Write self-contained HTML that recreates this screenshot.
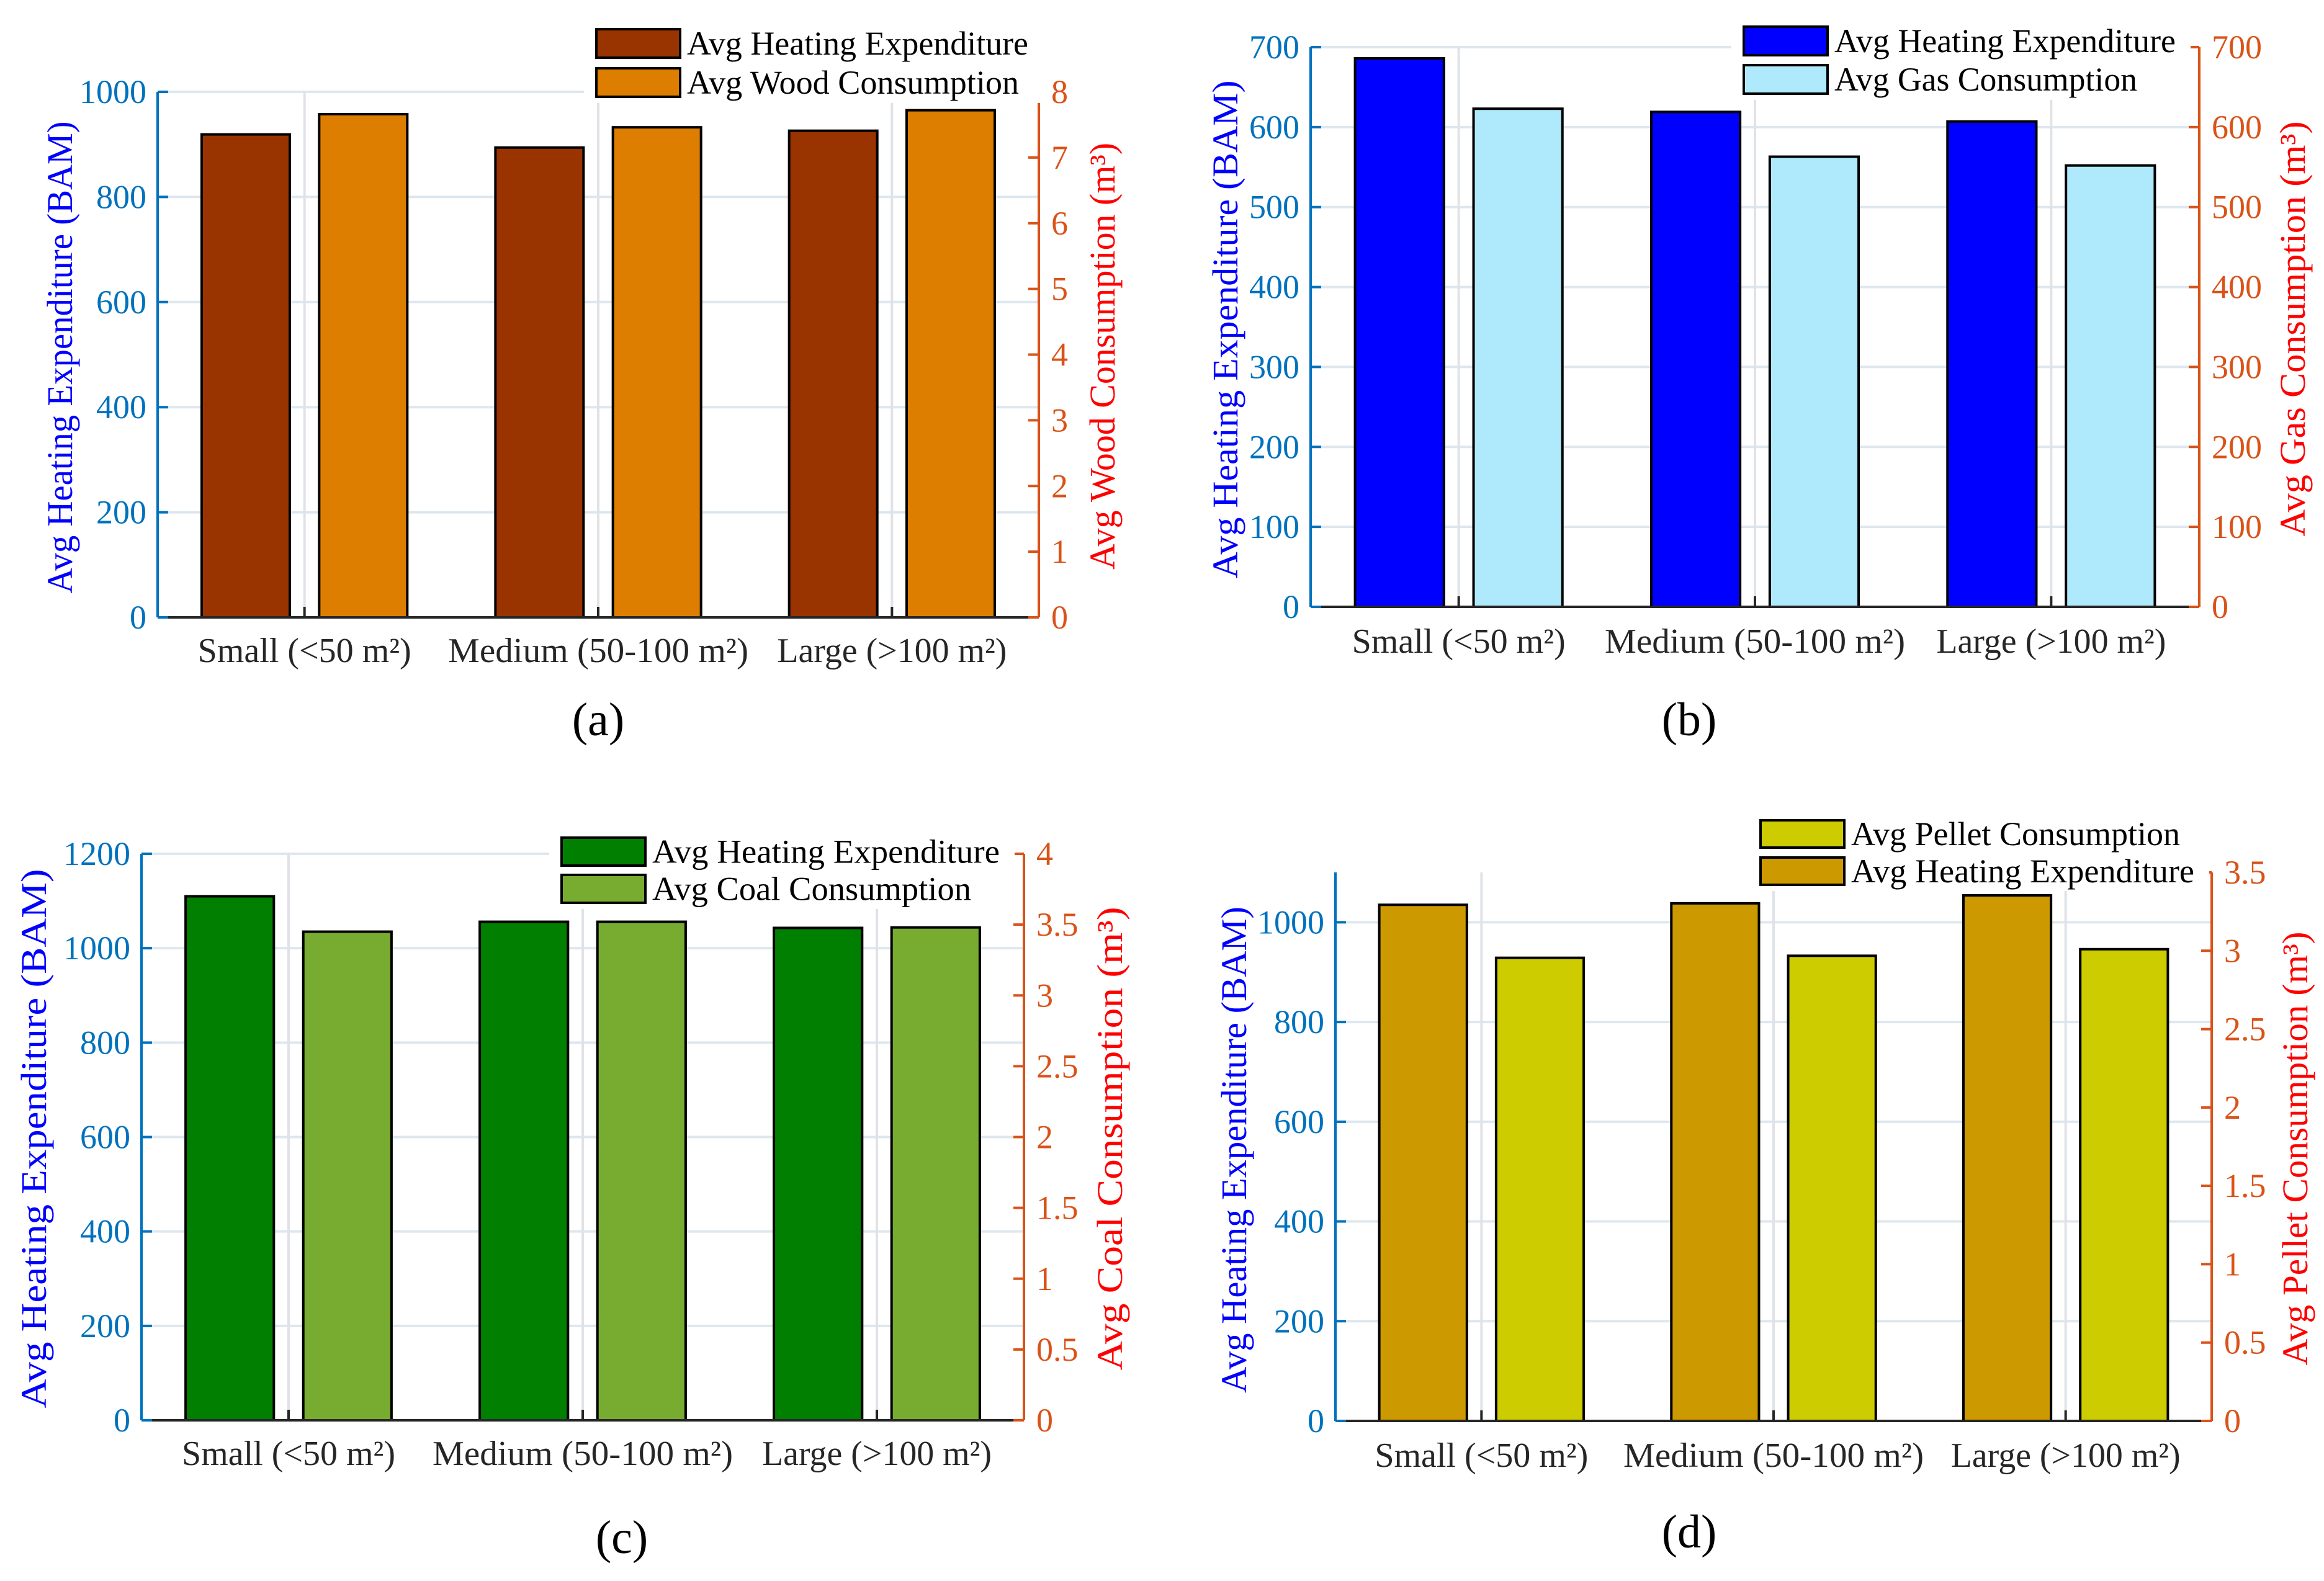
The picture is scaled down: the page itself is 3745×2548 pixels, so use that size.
<!DOCTYPE html>
<html><head><meta charset="utf-8"><style>
html,body{margin:0;padding:0;background:#fff;}
svg{display:block;}
text{font-family:"Liberation Serif",serif;}
</style></head>
<body>
<svg id="fig" width="3745" height="2548" viewBox="0 0 3745 2548" xmlns="http://www.w3.org/2000/svg"></svg>
<script>
// ---- data ----
const categories = ["Small (<50 m\u00B2)", "Medium (50-100 m\u00B2)", "Large (>100 m\u00B2)"];
const aHeating = [919, 894, 926];
const aWood = [7.66, 7.46, 7.72];
const bHeating = [686, 619, 607];
const bGas = [623, 563, 552];
const cHeating = [1110, 1056, 1043];
const cCoal = [3.45, 3.52, 3.48];
const dHeating = [1035, 1038, 1054];
const dPellet = [2.955, 2.968, 3.01];
const aLeftTicks = ["0","200","400","600","800","1000"];
const aRightTicks = ["0","1","2","3","4","5","6","7","8"];
const bLeftTicks = ["0","100","200","300","400","500","600","700"];
const bRightTicks = ["0","100","200","300","400","500","600","700"];
const cLeftTicks = ["0","200","400","600","800","1000","1200"];
const cRightTicks = ["0","0.5","1","1.5","2","2.5","3","3.5","4"];
const dLeftTicks = ["0","200","400","600","800","1000"];
const dRightTicks = ["0","0.5","1","1.5","2","2.5","3","3.5"];
const catLabelW = [344, 484, 370];

const NS = "http://www.w3.org/2000/svg";
const svg = document.getElementById('fig');
function el(tag, attrs, parent, txt){
  const e = document.createElementNS(NS, tag);
  for (const k in attrs) e.setAttribute(k, attrs[k]);
  if (txt !== undefined) e.textContent = txt;
  (parent||svg).appendChild(e);
  return e;
}

const panels = [
 {id:'a', x0:254, x1:1674, y0:995, y1:148, lmax:1000, rmax:8, left:aHeating, right:aWood, lt:aLeftTicks, rt:aRightTicks,
  lc:'#993300', rc:'#DD7E00', order:['L','R'], names:['Avg Heating Expenditure','Avg Wood Consumption'],
  legX:961, legY:[47,110], legH:46, legTextW:[550,535], ltitle:'Avg Heating Expenditure (BAM)', rtitle:'Avg Wood Consumption (m\u00B3)',
  ltx:96, lty:576, ltw:761, rtx:1776, rty:574, rtw:688, catY:1048, capX:964, capY:1159},
 {id:'b', x0:2112, x1:3544, y0:978, y1:76, lmax:700, rmax:700, left:bHeating, right:bGas, lt:bLeftTicks, rt:bRightTicks,
  lc:'#0000FF', rc:'#AEEAFC', order:['L','R'], names:['Avg Heating Expenditure','Avg Gas Consumption'],
  legX:2810, legY:[43,105], legH:46, legTextW:[550,488], ltitle:'Avg Heating Expenditure (BAM)', rtitle:'Avg Gas Consumption (m\u00B3)',
  ltx:1974, lty:531, ltw:803, rtx:3694, rty:530, rtw:669, catY:1033, capX:2722, capY:1159},
 {id:'c', x0:228, x1:1650, y0:2289, y1:1376, lmax:1200, rmax:4, left:cHeating, right:cCoal, lt:cLeftTicks, rt:cRightTicks,
  lc:'#007F00', rc:'#77AC30', order:['L','R'], names:['Avg Heating Expenditure','Avg Coal Consumption'],
  legX:905, legY:[1350,1410], legH:45, legTextW:[560,514], ltitle:'Avg Heating Expenditure (BAM)', rtitle:'Avg Coal Consumption (m\u00B3)',
  ltx:54, lty:1835, ltw:869, rtx:1788, rty:1835, rtw:747, catY:2342, capX:1002, capY:2477},
 {id:'d', x0:2152, x1:3564, y0:2290, y1:1406, lmax:1100, rmax:3.5, left:dHeating, right:dPellet, lt:dLeftTicks, rt:dRightTicks,
  lc:'#CC9900', rc:'#CCCC00', order:['R','L'], names:['Avg Pellet Consumption','Avg Heating Expenditure'],
  legX:2837, legY:[1322,1382], legH:44, legTextW:[530,553], ltitle:'Avg Heating Expenditure (BAM)', rtitle:'Avg Pellet Consumption (m\u00B3)',
  ltx:1988, lty:1853, ltw:784, rtx:3698, rty:1851, rtw:699, catY:2345, capX:2722, capY:2468}
];

panels.forEach(p => {
  const g = el('g', {});
  
  
  const xs = i => p.x0 + (i + 0.5) * (p.x1 - p.x0) / categories.length;
  const unit = (p.x1 - p.x0) / categories.length;
  const yl = v => p.y0 - v / p.lmax * (p.y0 - p.y1);
  const yr = v => p.y0 - v / p.rmax * (p.y0 - p.y1);

  p.lt.forEach(t => {
    const y = yl(parseFloat(t));
    const gl = el('line', {x1:p.x0, x2:p.x1, y1:y, y2:y, stroke:'#dde7ef', 'stroke-width':4}, g);
    
    
  });
  categories.forEach((c, i) => {
    const gl = el('line', {x1:xs(i), x2:xs(i), y1:p.y1, y2:p.y0, stroke:'#dfe3e8', 'stroke-width':4}, g);
    
    
  });

  categories.forEach((c, i) => {
    const vL = p.left[i], vR = p.right[i];
    const bl = el('rect', {x:xs(i) - 0.2*unit - 0.15*unit, y:yl(vL), width:0.3*unit, height:p.y0 - yl(vL), fill:p.lc, stroke:'#000', 'stroke-width':4}, g);
    
    
    const br = el('rect', {x:xs(i) + 0.2*unit - 0.15*unit, y:yr(vR), width:0.3*unit, height:p.y0 - yr(vR), fill:p.rc, stroke:'#000', 'stroke-width':4}, g);
    
    
  });

  const la = el('line', {x1:p.x0, x2:p.x0, y1:p.y1, y2:p.y0, stroke:'#0072BD', 'stroke-width':4}, g);
  
  
  const ra = el('line', {x1:p.x1, x2:p.x1, y1:p.y1, y2:p.y0, stroke:'#D95319', 'stroke-width':4}, g);
  
  
  const xa = el('line', {x1:p.x0, x2:p.x1, y1:p.y0, y2:p.y0, stroke:'#262626', 'stroke-width':4}, g);
  
  

  p.lt.forEach(t => {
    const y = yl(parseFloat(t));
    el('line', {x1:p.x0, x2:p.x0+17, y1:y, y2:y, stroke:'#0072BD', 'stroke-width':4}, g);
    const tx = el('text', {x:p.x0-18, y:y+18, 'text-anchor':'end', 'font-size':54, fill:'#0072BD'}, g, t);
    
    
  });
  p.rt.forEach(t => {
    const y = yr(parseFloat(t));
    el('line', {x1:p.x1-17, x2:p.x1, y1:y, y2:y, stroke:'#D95319', 'stroke-width':4}, g);
    const tx = el('text', {x:p.x1+20, y:y+18, 'text-anchor':'start', 'font-size':54, fill:'#D95319'}, g, t);
    
    
  });
  categories.forEach((c, i) => {
    el('line', {x1:xs(i), x2:xs(i), y1:p.y0-17, y2:p.y0, stroke:'#262626', 'stroke-width':4}, g);
    const tx = el('text', {x:xs(i)-catLabelW[i]/2, y:p.catY+19, 'font-size':56, fill:'#262626', textLength:catLabelW[i], lengthAdjust:'spacingAndGlyphs'}, g, c);
    
    
  });

  const lt = el('text', {x:0, y:0, 'text-anchor':'middle', 'font-size':58, fill:'#0000FF', textLength:p.ltw, lengthAdjust:'spacingAndGlyphs', transform:`translate(${p.ltx+20},${p.lty}) rotate(-90)`}, g, p.ltitle);
  
  
  const rt = el('text', {x:0, y:0, 'text-anchor':'middle', 'font-size':58, fill:'#FF0000', textLength:p.rtw, lengthAdjust:'spacingAndGlyphs', transform:`translate(${p.rtx+20},${p.rty}) rotate(-90)`}, g, p.rtitle);
  
  

  const lg = el('g', {}, g);
  
  
  el('rect', {x:p.legX-20, y:p.legY[0]-10, width:Math.max(...p.legTextW)+190, height:p.legY[1]-p.legY[0]+p.legH+20, fill:'#fff'}, lg);
  p.order.forEach((s, k) => {
    const sw = el('rect', {x:p.legX, y:p.legY[k], width:135, height:p.legH, fill:s==='L'?p.lc:p.rc, stroke:'#000', 'stroke-width':4}, lg);
    
    
    const tx = el('text', {x:p.legX+146, y:p.legY[k]+p.legH/2+18, 'font-size':54, fill:'#000', textLength:p.legTextW[k], lengthAdjust:'spacingAndGlyphs'}, lg, p.names[k]);
    
    
  });

  const cap = el('text', {x:p.capX, y:p.capY+26, 'text-anchor':'middle', 'font-size':76, fill:'#000'}, g, '(' + p.id + ')');
  
  
});
</script>
</body></html>
